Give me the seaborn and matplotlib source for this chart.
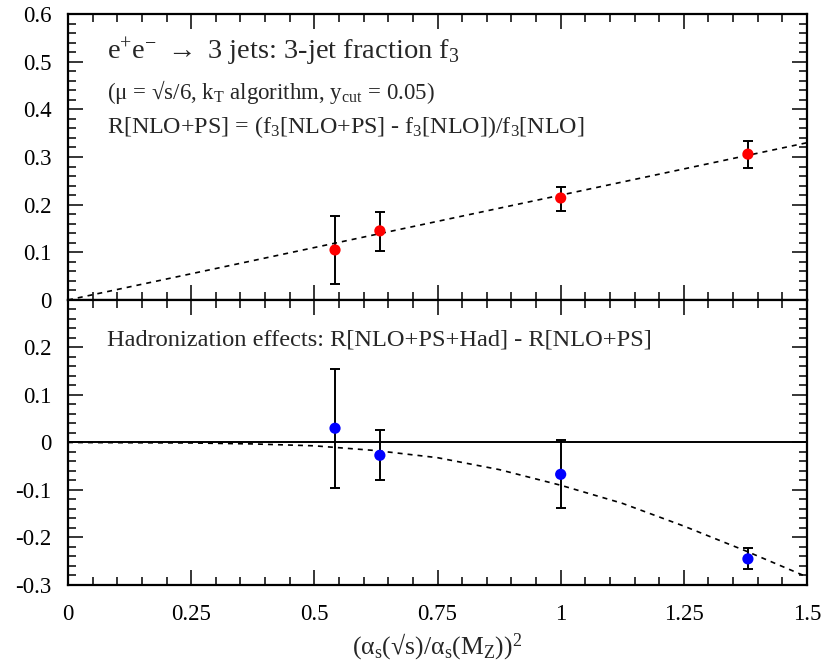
import numpy as np
import pandas as pd
import matplotlib
matplotlib.use("Agg")
import matplotlib.pyplot as plt
import seaborn as sns
from matplotlib.ticker import MultipleLocator, FormatStrFormatter

# values
x_points = [0.542, 0.633, 1.0, 1.38]

# top panel: R[NLO+PS]
r_ps = [0.105, 0.145, 0.214, 0.306]
r_ps_lo = [0.034, 0.103, 0.187, 0.277]
r_ps_hi = [0.176, 0.185, 0.237, 0.333]
fit_top_x = [0.0, 1.5]
fit_top_y = [0.0, 0.33]

# bottom panel: hadronization effects
r_had = [0.030, -0.027, -0.067, -0.245]
r_had_lo = [-0.095, -0.079, -0.138, -0.267]
r_had_hi = [0.155, 0.027, 0.006, -0.222]
fit_bot_x = [0.0, 0.25, 0.375, 0.5, 0.625, 0.75, 0.875, 1.0, 1.125, 1.25, 1.375, 1.5]
fit_bot_y = [0.0, -0.001, -0.003, -0.007, -0.017, -0.032, -0.057, -0.09, -0.128, -0.176, -0.228, -0.283]

x_ticks = [0, 0.25, 0.5, 0.75, 1, 1.25, 1.5]

sns.set_theme(style="ticks")
plt.rcParams["font.family"] = ["Liberation Serif", "DejaVu Serif"]
plt.rcParams["mathtext.fontset"] = "custom"
plt.rcParams["mathtext.rm"] = "Liberation Serif"
plt.rcParams["mathtext.it"] = "Liberation Serif:italic"
plt.rcParams["mathtext.bf"] = "Liberation Serif:bold"
plt.rcParams["mathtext.fallback"] = "stix"
plt.rcParams["axes.linewidth"] = 1.6

fig = plt.figure(figsize=(8.22, 6.65), dpi=100)
ax1 = fig.add_axes([0.0827, 0.5489, 0.8991, 0.4300])
ax2 = fig.add_axes([0.0827, 0.1203, 0.8991, 0.4286])


def style_axis(ax):
    ax.set_xlim(0, 1.5)
    ax.xaxis.set_major_locator(MultipleLocator(0.25))
    ax.xaxis.set_minor_locator(MultipleLocator(0.05))
    ax.yaxis.set_major_locator(MultipleLocator(0.1))
    ax.yaxis.set_minor_locator(MultipleLocator(0.02))
    ax.tick_params(which="both", direction="in", top=True, right=True,
                   width=1.1, colors="black", labelsize=16.5, pad=12)
    ax.tick_params(axis="x", which="both", pad=14)
    ax.tick_params(which="major", length=11)
    ax.tick_params(which="minor", length=5.5)
    ax.yaxis.set_major_formatter(FormatStrFormatter("%g"))
    ax.xaxis.set_major_formatter(FormatStrFormatter("%g"))
    for s in ax.spines.values():
        s.set_color("black")


def draw_points(ax, y, lo, hi, color):
    y = np.array(y)
    yerr = [y - np.array(lo), np.array(hi) - y]
    ax.errorbar(x_points, y, yerr=yerr, fmt="none", ecolor="black",
                elinewidth=1.4, capsize=3.5, capthick=1.4, zorder=3)
    sns.scatterplot(x=x_points, y=y, ax=ax, color=color, s=65,
                    edgecolor="none", zorder=4)


# top panel
style_axis(ax1)
ax1.set_ylim(0, 0.6)
sns.lineplot(x=fit_top_x, y=fit_top_y, ax=ax1, color="black",
             linewidth=1.2, linestyle=(0, (3, 3)))
draw_points(ax1, r_ps, r_ps_lo, r_ps_hi, "#ff0000")
ax1.set_yticks([0, 0.1, 0.2, 0.3, 0.4, 0.5, 0.6])
ax1.tick_params(axis="x", labelbottom=False)
ax1.text(0.079, 0.505, r"e$^{+}$e$^{-}$ $\rightarrow$ 3 jets: 3-jet fraction f$_{3}$",
         fontsize=20.5, va="baseline")
ax1.text(0.079, 0.421, r"(μ = √s/6, k$_{\mathrm{T}}$ algorithm, y$_{\mathrm{cut}}$ = 0.05)",
         fontsize=16.5, va="baseline")
ax1.text(0.079, 0.350, r"R[NLO+PS] = (f$_{3}$[NLO+PS] - f$_{3}$[NLO])/f$_{3}$[NLO]",
         fontsize=17.3, va="baseline")
ax1.set_xlabel("")
ax1.set_ylabel("")

# bottom panel
style_axis(ax2)
ax2.set_ylim(-0.3, 0.3)
ax2.set_yticks([-0.3, -0.2, -0.1, 0, 0.1, 0.2])
ax2.axhline(0, color="black", linewidth=1.4, zorder=2)
sns.lineplot(x=fit_bot_x, y=fit_bot_y, ax=ax2, color="black",
             linewidth=1.2, linestyle=(0, (3, 3)))
draw_points(ax2, r_had, r_had_lo, r_had_hi, "#0000ff")
ax2.set_xticks(x_ticks)
ax2.text(0.079, 0.204, "Hadronization effects: R[NLO+PS+Had] - R[NLO+PS]",
         fontsize=17.6, va="baseline")
ax2.set_xlabel(r"(α$_{\mathrm{s}}$(√s)/α$_{\mathrm{s}}$(M$_{\mathrm{Z}}$))$^{2}$",
               fontsize=18.5, labelpad=4)
ax2.set_ylabel("")

fig.savefig("out.png", dpi=100)
